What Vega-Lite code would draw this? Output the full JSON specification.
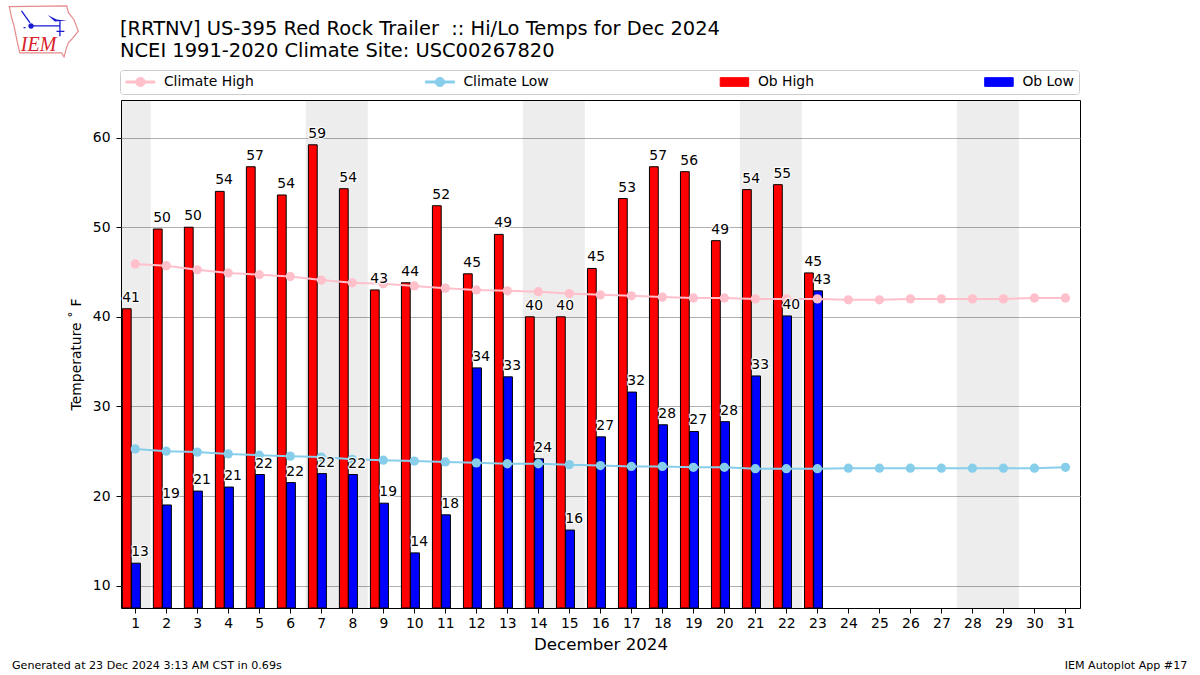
{
"$schema":"https://vega.github.io/schema/vega-lite/v6.json",
"autosize":{"type":"none"},
"width":959,"height":508,
"padding":{"left":121,"top":100,"right":120,"bottom":67},
"background":"white",
"view":{"stroke":"black","strokeWidth":1,"fill":null},
"config":{"font":"DejaVu Sans","axis":{"labelOverlap":false},"legend":{"orient":"none","legendX":-1,"legendY":-30,"direction":"vertical","columns":4,"columnPadding":168.5,"fillColor":"white","strokeColor":"#cccccc","cornerRadius":3,"padding":5,"symbolSize":100,"symbolOffset":8.5,"labelOffset":16.5,"labelFontSize":13.9,"labelColor":"black","symbolOpacity":1}},
"title":{"text":["[RRTNV] US-395 Red Rock Trailer \u00a0:: Hi/Lo Temps for Dec 2024","NCEI 1991-2020 Climate Site: USC00267820"],"anchor":"start","frame":"group","fontSize":19.44,"fontWeight":"normal","lineHeight":22,"offset":-58,"color":"black","dx":-1},
"datasets":{
"weekends":[{"start":0.54,"end":1.5},{"start":6.5,"end":8.5},{"start":13.5,"end":15.5},{"start":20.5,"end":22.5},{"start":27.5,"end":29.5}],
"obhigh":[{"day":1,"temp":40.9,"label":"41","series":"Ob High"},{"day":2,"temp":49.8,"label":"50","series":"Ob High"},{"day":3,"temp":50.0,"label":"50","series":"Ob High"},{"day":4,"temp":54.0,"label":"54","series":"Ob High"},{"day":5,"temp":56.75,"label":"57","series":"Ob High"},{"day":6,"temp":53.6,"label":"54","series":"Ob High"},{"day":7,"temp":59.2,"label":"59","series":"Ob High"},{"day":8,"temp":54.3,"label":"54","series":"Ob High"},{"day":9,"temp":43.0,"label":"43","series":"Ob High"},{"day":10,"temp":43.8,"label":"44","series":"Ob High"},{"day":11,"temp":52.4,"label":"52","series":"Ob High"},{"day":12,"temp":44.8,"label":"45","series":"Ob High"},{"day":13,"temp":49.2,"label":"49","series":"Ob High"},{"day":14,"temp":40.0,"label":"40","series":"Ob High"},{"day":15,"temp":40.0,"label":"40","series":"Ob High"},{"day":16,"temp":45.4,"label":"45","series":"Ob High"},{"day":17,"temp":53.2,"label":"53","series":"Ob High"},{"day":18,"temp":56.75,"label":"57","series":"Ob High"},{"day":19,"temp":56.2,"label":"56","series":"Ob High"},{"day":20,"temp":48.5,"label":"49","series":"Ob High"},{"day":21,"temp":54.2,"label":"54","series":"Ob High"},{"day":22,"temp":54.75,"label":"55","series":"Ob High"},{"day":23,"temp":44.9,"label":"45","series":"Ob High"}],
"oblow":[{"day":1,"temp":12.5,"label":"13","series":"Ob Low"},{"day":2,"temp":19.0,"label":"19","series":"Ob Low"},{"day":3,"temp":20.55,"label":"21","series":"Ob Low"},{"day":4,"temp":21.0,"label":"21","series":"Ob Low"},{"day":5,"temp":22.4,"label":"22","series":"Ob Low"},{"day":6,"temp":21.5,"label":"22","series":"Ob Low"},{"day":7,"temp":22.5,"label":"22","series":"Ob Low"},{"day":8,"temp":22.4,"label":"22","series":"Ob Low"},{"day":9,"temp":19.2,"label":"19","series":"Ob Low"},{"day":10,"temp":13.65,"label":"14","series":"Ob Low"},{"day":11,"temp":17.9,"label":"18","series":"Ob Low"},{"day":12,"temp":34.3,"label":"34","series":"Ob Low"},{"day":13,"temp":33.3,"label":"33","series":"Ob Low"},{"day":14,"temp":24.15,"label":"24","series":"Ob Low"},{"day":15,"temp":16.2,"label":"16","series":"Ob Low"},{"day":16,"temp":26.6,"label":"27","series":"Ob Low"},{"day":17,"temp":31.6,"label":"32","series":"Ob Low"},{"day":18,"temp":27.95,"label":"28","series":"Ob Low"},{"day":19,"temp":27.2,"label":"27","series":"Ob Low"},{"day":20,"temp":28.3,"label":"28","series":"Ob Low"},{"day":21,"temp":33.4,"label":"33","series":"Ob Low"},{"day":22,"temp":40.1,"label":"40","series":"Ob Low"},{"day":23,"temp":42.9,"label":"43","series":"Ob Low"}],
"climate":[{"day":1,"temp":45.9,"series":"Climate High"},{"day":2,"temp":45.7,"series":"Climate High"},{"day":3,"temp":45.25,"series":"Climate High"},{"day":4,"temp":44.9,"series":"Climate High"},{"day":5,"temp":44.7,"series":"Climate High"},{"day":6,"temp":44.5,"series":"Climate High"},{"day":7,"temp":44.1,"series":"Climate High"},{"day":8,"temp":43.8,"series":"Climate High"},{"day":9,"temp":43.7,"series":"Climate High"},{"day":10,"temp":43.45,"series":"Climate High"},{"day":11,"temp":43.2,"series":"Climate High"},{"day":12,"temp":43.0,"series":"Climate High"},{"day":13,"temp":42.9,"series":"Climate High"},{"day":14,"temp":42.8,"series":"Climate High"},{"day":15,"temp":42.6,"series":"Climate High"},{"day":16,"temp":42.45,"series":"Climate High"},{"day":17,"temp":42.35,"series":"Climate High"},{"day":18,"temp":42.2,"series":"Climate High"},{"day":19,"temp":42.1,"series":"Climate High"},{"day":20,"temp":42.1,"series":"Climate High"},{"day":21,"temp":42.0,"series":"Climate High"},{"day":22,"temp":42.0,"series":"Climate High"},{"day":23,"temp":42.0,"series":"Climate High"},{"day":24,"temp":41.9,"series":"Climate High"},{"day":25,"temp":41.9,"series":"Climate High"},{"day":26,"temp":42.0,"series":"Climate High"},{"day":27,"temp":42.0,"series":"Climate High"},{"day":28,"temp":42.0,"series":"Climate High"},{"day":29,"temp":42.0,"series":"Climate High"},{"day":30,"temp":42.1,"series":"Climate High"},{"day":31,"temp":42.1,"series":"Climate High"},
{"day":1,"temp":25.25,"series":"Climate Low"},{"day":2,"temp":25.0,"series":"Climate Low"},{"day":3,"temp":24.9,"series":"Climate Low"},{"day":4,"temp":24.7,"series":"Climate Low"},{"day":5,"temp":24.55,"series":"Climate Low"},{"day":6,"temp":24.45,"series":"Climate Low"},{"day":7,"temp":24.35,"series":"Climate Low"},{"day":8,"temp":24.1,"series":"Climate Low"},{"day":9,"temp":24.0,"series":"Climate Low"},{"day":10,"temp":23.9,"series":"Climate Low"},{"day":11,"temp":23.8,"series":"Climate Low"},{"day":12,"temp":23.7,"series":"Climate Low"},{"day":13,"temp":23.6,"series":"Climate Low"},{"day":14,"temp":23.6,"series":"Climate Low"},{"day":15,"temp":23.5,"series":"Climate Low"},{"day":16,"temp":23.4,"series":"Climate Low"},{"day":17,"temp":23.3,"series":"Climate Low"},{"day":18,"temp":23.3,"series":"Climate Low"},{"day":19,"temp":23.2,"series":"Climate Low"},{"day":20,"temp":23.2,"series":"Climate Low"},{"day":21,"temp":23.05,"series":"Climate Low"},{"day":22,"temp":23.05,"series":"Climate Low"},{"day":23,"temp":23.05,"series":"Climate Low"},{"day":24,"temp":23.1,"series":"Climate Low"},{"day":25,"temp":23.1,"series":"Climate Low"},{"day":26,"temp":23.1,"series":"Climate Low"},{"day":27,"temp":23.1,"series":"Climate Low"},{"day":28,"temp":23.1,"series":"Climate Low"},{"day":29,"temp":23.1,"series":"Climate Low"},{"day":30,"temp":23.1,"series":"Climate Low"},{"day":31,"temp":23.2,"series":"Climate Low"}]
},
"layer":[
{"data":{"name":"weekends"},"mark":{"type":"rect","color":"black","opacity":0.07},"encoding":{"x":{"field":"start","type":"quantitative","scale":{"domain":[0.54,31.47],"nice":false,"zero":false,"padding":0},
"axis":{"values":[1,2,3,4,5,6,7,8,9,10,11,12,13,14,15,16,17,18,19,20,21,22,23,24,25,26,27,28,29,30,31],"grid":false,"domain":false,"tickColor":"black","tickSize":5,"labelFontSize":13.9,"labelColor":"black","labelOverlap":false,"labelFlush":false,"labelPadding":3,"title":"December 2024","titleFontSize":16.67,"titleFontWeight":"normal","titleColor":"black","titlePadding":7}},"x2":{"field":"end"},"y":{"value":0},"y2":{"value":508}}},
{"data":{"name":"obhigh"},"mark":{"type":"bar","width":8.8,"xOffset":-8.5,"stroke":"black","strokeWidth":1},"encoding":{"x":{"field":"day","type":"quantitative","axis":{"values":[1,2,3,4,5,6,7,8,9,10,11,12,13,14,15,16,17,18,19,20,21,22,23,24,25,26,27,28,29,30,31],"grid":false,"domain":false,"tickColor":"black","tickSize":5,"labelFontSize":13.9,"labelColor":"black","labelOverlap":false,"labelFlush":false,"labelPadding":3,"title":"December 2024","titleFontSize":16.67,"titleFontWeight":"normal","titleColor":"black","titlePadding":7}},"y":{"field":"temp","type":"quantitative","scale":{"domain":[7.5,64.2],"nice":false,"zero":false},
"axis":{"values":[10,20,30,40,50,60],"grid":true,"gridColor":"#b0b0b0","gridWidth":1,"domain":false,"tickColor":"black","tickSize":5,"labelFontSize":13.9,"labelColor":"black","labelPadding":6,"title":"Temperature ˚ F","titleFontSize":13.9,"titleFontWeight":"normal","titleColor":"black","titlePadding":9}},"y2":{"datum":7.5},"color":{"field":"series","type":"nominal","legend":{"title":null,"encoding":{"symbols":{"strokeWidth":{"value":1}}}},"scale":{"domain":["Climate High","Climate Low","Ob High","Ob Low"],"range":["#ffc0cb","#87ceeb","#ff0000","#0000ff"]}}}},
{"data":{"name":"oblow"},"mark":{"type":"bar","width":8.8,"xOffset":0.7,"stroke":"black","strokeWidth":1},"encoding":{"x":{"field":"day","type":"quantitative","axis":{"values":[1,2,3,4,5,6,7,8,9,10,11,12,13,14,15,16,17,18,19,20,21,22,23,24,25,26,27,28,29,30,31],"grid":false,"domain":false,"tickColor":"black","tickSize":5,"labelFontSize":13.9,"labelColor":"black","labelOverlap":false,"labelFlush":false,"labelPadding":3,"title":"December 2024","titleFontSize":16.67,"titleFontWeight":"normal","titleColor":"black","titlePadding":7}},"y":{"field":"temp","type":"quantitative"},"y2":{"datum":7.5},"color":{"field":"series","type":"nominal","legend":{"title":null}}}},
{"data":{"name":"climate"},"mark":{"type":"line","strokeWidth":2},"encoding":{"x":{"field":"day","type":"quantitative","axis":{"values":[1,2,3,4,5,6,7,8,9,10,11,12,13,14,15,16,17,18,19,20,21,22,23,24,25,26,27,28,29,30,31],"grid":false,"domain":false,"tickColor":"black","tickSize":5,"labelFontSize":13.9,"labelColor":"black","labelOverlap":false,"labelFlush":false,"labelPadding":3,"title":"December 2024","titleFontSize":16.67,"titleFontWeight":"normal","titleColor":"black","titlePadding":7}},"y":{"field":"temp","type":"quantitative"},"color":{"field":"series","type":"nominal","legend":{"title":null}}}},
{"data":{"name":"climate"},"mark":{"type":"point","filled":true,"opacity":1,"size":86,"shape":"circle"},"encoding":{"x":{"field":"day","type":"quantitative","axis":{"values":[1,2,3,4,5,6,7,8,9,10,11,12,13,14,15,16,17,18,19,20,21,22,23,24,25,26,27,28,29,30,31],"grid":false,"domain":false,"tickColor":"black","tickSize":5,"labelFontSize":13.9,"labelColor":"black","labelOverlap":false,"labelFlush":false,"labelPadding":3,"title":"December 2024","titleFontSize":16.67,"titleFontWeight":"normal","titleColor":"black","titlePadding":7}},"y":{"field":"temp","type":"quantitative"},"color":{"field":"series","type":"nominal","legend":{"title":null}}}},
{"data":{"name":"climate"},"transform":[{"filter":"datum.day>99"}],"mark":{"type":"point","filled":true,"opacity":1,"strokeWidth":1},"encoding":{"x":{"field":"day","type":"quantitative","axis":{"values":[1,2,3,4,5,6,7,8,9,10,11,12,13,14,15,16,17,18,19,20,21,22,23,24,25,26,27,28,29,30,31],"grid":false,"domain":false,"tickColor":"black","tickSize":5,"labelFontSize":13.9,"labelColor":"black","labelOverlap":false,"labelFlush":false,"labelPadding":3,"title":"December 2024","titleFontSize":16.67,"titleFontWeight":"normal","titleColor":"black","titlePadding":7}},"y":{"field":"temp","type":"quantitative"},
"color":{"field":"series","type":"nominal","legend":{"title":null}},
"stroke":{"field":"series","type":"nominal","scale":{"domain":["Climate High","Climate Low","Ob High","Ob Low"],"range":["transparent","transparent","#000000","#000000"]},"legend":{"title":null}},
"shape":{"field":"series","type":"nominal","scale":{"domain":["Climate High","Climate Low","Ob High","Ob Low"],"range":["M-2.9,-0.2H2.9V0.2H-2.9ZM0.92,0A0.92,0.92 0 1 1 -0.92,0A0.92,0.92 0 1 1 0.92,0Z","M-2.9,-0.2H2.9V0.2H-2.9ZM0.92,0A0.92,0.92 0 1 1 -0.92,0A0.92,0.92 0 1 1 0.92,0Z","M-2.85,-0.87H2.85V0.87H-2.85Z","M-2.85,-0.87H2.85V0.87H-2.85Z"]},"legend":{"title":null}}}},
{"data":{"name":"obhigh"},"mark":{"type":"text","align":"left","baseline":"alphabetic","dx":-13,"dy":-7,"fontSize":13.9,"stroke":"white","strokeWidth":2.5,"opacity":0.85},"encoding":{"x":{"field":"day","type":"quantitative","axis":{"values":[1,2,3,4,5,6,7,8,9,10,11,12,13,14,15,16,17,18,19,20,21,22,23,24,25,26,27,28,29,30,31],"grid":false,"domain":false,"tickColor":"black","tickSize":5,"labelFontSize":13.9,"labelColor":"black","labelOverlap":false,"labelFlush":false,"labelPadding":3,"title":"December 2024","titleFontSize":16.67,"titleFontWeight":"normal","titleColor":"black","titlePadding":7}},"y":{"field":"temp","type":"quantitative"},"text":{"field":"label"}}},
{"data":{"name":"oblow"},"mark":{"type":"text","align":"left","baseline":"alphabetic","dx":-4,"dy":-7,"fontSize":13.9,"stroke":"white","strokeWidth":2.5,"opacity":0.85},"encoding":{"x":{"field":"day","type":"quantitative","axis":{"values":[1,2,3,4,5,6,7,8,9,10,11,12,13,14,15,16,17,18,19,20,21,22,23,24,25,26,27,28,29,30,31],"grid":false,"domain":false,"tickColor":"black","tickSize":5,"labelFontSize":13.9,"labelColor":"black","labelOverlap":false,"labelFlush":false,"labelPadding":3,"title":"December 2024","titleFontSize":16.67,"titleFontWeight":"normal","titleColor":"black","titlePadding":7}},"y":{"field":"temp","type":"quantitative"},"text":{"field":"label"}}},
{"data":{"name":"obhigh"},"mark":{"type":"text","align":"left","baseline":"alphabetic","dx":-13,"dy":-7,"fontSize":13.9,"color":"black"},"encoding":{"x":{"field":"day","type":"quantitative","axis":{"values":[1,2,3,4,5,6,7,8,9,10,11,12,13,14,15,16,17,18,19,20,21,22,23,24,25,26,27,28,29,30,31],"grid":false,"domain":false,"tickColor":"black","tickSize":5,"labelFontSize":13.9,"labelColor":"black","labelOverlap":false,"labelFlush":false,"labelPadding":3,"title":"December 2024","titleFontSize":16.67,"titleFontWeight":"normal","titleColor":"black","titlePadding":7}},"y":{"field":"temp","type":"quantitative"},"text":{"field":"label"}}},
{"data":{"name":"oblow"},"mark":{"type":"text","align":"left","baseline":"alphabetic","dx":-4,"dy":-7,"fontSize":13.9,"color":"black"},"encoding":{"x":{"field":"day","type":"quantitative","axis":{"values":[1,2,3,4,5,6,7,8,9,10,11,12,13,14,15,16,17,18,19,20,21,22,23,24,25,26,27,28,29,30,31],"grid":false,"domain":false,"tickColor":"black","tickSize":5,"labelFontSize":13.9,"labelColor":"black","labelOverlap":false,"labelFlush":false,"labelPadding":3,"title":"December 2024","titleFontSize":16.67,"titleFontWeight":"normal","titleColor":"black","titlePadding":7}},"y":{"field":"temp","type":"quantitative"},"text":{"field":"label"}}},
{"data":{"values":[{"note":"Generated at 23 Dec 2024 3:13 AM CST in 0.69s"}]},"mark":{"type":"text","align":"left","baseline":"alphabetic","fontSize":11.1,"color":"black"},"encoding":{"x":{"datum":-2.977,"type":"quantitative","axis":{"values":[1,2,3,4,5,6,7,8,9,10,11,12,13,14,15,16,17,18,19,20,21,22,23,24,25,26,27,28,29,30,31],"grid":false,"domain":false,"tickColor":"black","tickSize":5,"labelFontSize":13.9,"labelColor":"black","labelOverlap":false,"labelFlush":false,"labelPadding":3,"title":"December 2024","titleFontSize":16.67,"titleFontWeight":"normal","titleColor":"black","titlePadding":7}},"y":{"datum":0.68,"type":"quantitative"},"text":{"field":"note"}}},
{"data":{"values":[{"note":"IEM Autoplot App #17"}]},"mark":{"type":"text","align":"right","baseline":"alphabetic","fontSize":11.1,"color":"black"},"encoding":{"x":{"datum":34.93,"type":"quantitative","axis":{"values":[1,2,3,4,5,6,7,8,9,10,11,12,13,14,15,16,17,18,19,20,21,22,23,24,25,26,27,28,29,30,31],"grid":false,"domain":false,"tickColor":"black","tickSize":5,"labelFontSize":13.9,"labelColor":"black","labelOverlap":false,"labelFlush":false,"labelPadding":3,"title":"December 2024","titleFontSize":16.67,"titleFontWeight":"normal","titleColor":"black","titlePadding":7}},"y":{"datum":0.68,"type":"quantitative"},"text":{"field":"note"}}},
{"data":{"values":[{"note":"IEM"}]},"mark":{"type":"text","align":"left","baseline":"alphabetic","font":"Liberation Serif","fontStyle":"italic","fontSize":20,"color":"#d8232a"},"encoding":{"x":{"datum":-2.69,"type":"quantitative","axis":{"values":[1,2,3,4,5,6,7,8,9,10,11,12,13,14,15,16,17,18,19,20,21,22,23,24,25,26,27,28,29,30,31],"grid":false,"domain":false,"tickColor":"black","tickSize":5,"labelFontSize":13.9,"labelColor":"black","labelOverlap":false,"labelFlush":false,"labelPadding":3,"title":"December 2024","titleFontSize":16.67,"titleFontWeight":"normal","titleColor":"black","titlePadding":7}},"y":{"datum":69.66,"type":"quantitative"},"text":{"field":"note"}}},
{"data":{"values":[{"note":"outline"}]},"mark":{"type":"point","filled":false,"opacity":1,"stroke":"#e58a8a","strokeWidth":1.2,"size":4624,"shape":"M-1.02,-0.73L0.67,-0.75L0.72,-0.55L0.88,-0.35L1.01,-0.01L0.81,0.24L0.72,0.33L0.65,0.53L0.59,0.75L0.52,0.63L-0.71,0.63L-0.78,0.33L-0.88,-0.16L-0.95,-0.4Z"},"encoding":{"x":{"datum":-1.945,"type":"quantitative","axis":{"values":[1,2,3,4,5,6,7,8,9,10,11,12,13,14,15,16,17,18,19,20,21,22,23,24,25,26,27,28,29,30,31],"grid":false,"domain":false,"tickColor":"black","tickSize":5,"labelFontSize":13.9,"labelColor":"black","labelOverlap":false,"labelFlush":false,"labelPadding":3,"title":"December 2024","titleFontSize":16.67,"titleFontWeight":"normal","titleColor":"black","titlePadding":7}},"y":{"datum":71.86,"type":"quantitative"}}},
{"data":{"values":[{"note":"station lines"}]},"mark":{"type":"point","filled":false,"opacity":1,"stroke":"#1a1ad0","strokeWidth":1.3,"size":4624,"shape":"M-0.38,-0.16H0.47M-0.66,-0.6L-0.41,-0.25M0.47,-0.3V0.14M0.37,0H0.6"},"encoding":{"x":{"datum":-1.945,"type":"quantitative","axis":{"values":[1,2,3,4,5,6,7,8,9,10,11,12,13,14,15,16,17,18,19,20,21,22,23,24,25,26,27,28,29,30,31],"grid":false,"domain":false,"tickColor":"black","tickSize":5,"labelFontSize":13.9,"labelColor":"black","labelOverlap":false,"labelFlush":false,"labelPadding":3,"title":"December 2024","titleFontSize":16.67,"titleFontWeight":"normal","titleColor":"black","titlePadding":7}},"y":{"datum":71.86,"type":"quantitative"}}},
{"data":{"values":[{"note":"station fill"}]},"mark":{"type":"point","filled":true,"opacity":1,"color":"#1a1ad0","size":4624,"shape":"M-0.3,-0.16A0.08,0.08 0 1 1 -0.46,-0.16A0.08,0.08 0 1 1 -0.3,-0.16ZM0.11,-0.48L0.37,-0.35L0.67,-0.31L0.32,-0.29ZM-0.6,-0.13H-0.54V-0.09H-0.6Z"},"encoding":{"x":{"datum":-1.945,"type":"quantitative","axis":{"values":[1,2,3,4,5,6,7,8,9,10,11,12,13,14,15,16,17,18,19,20,21,22,23,24,25,26,27,28,29,30,31],"grid":false,"domain":false,"tickColor":"black","tickSize":5,"labelFontSize":13.9,"labelColor":"black","labelOverlap":false,"labelFlush":false,"labelPadding":3,"title":"December 2024","titleFontSize":16.67,"titleFontWeight":"normal","titleColor":"black","titlePadding":7}},"y":{"datum":71.86,"type":"quantitative"}}}
]
}
